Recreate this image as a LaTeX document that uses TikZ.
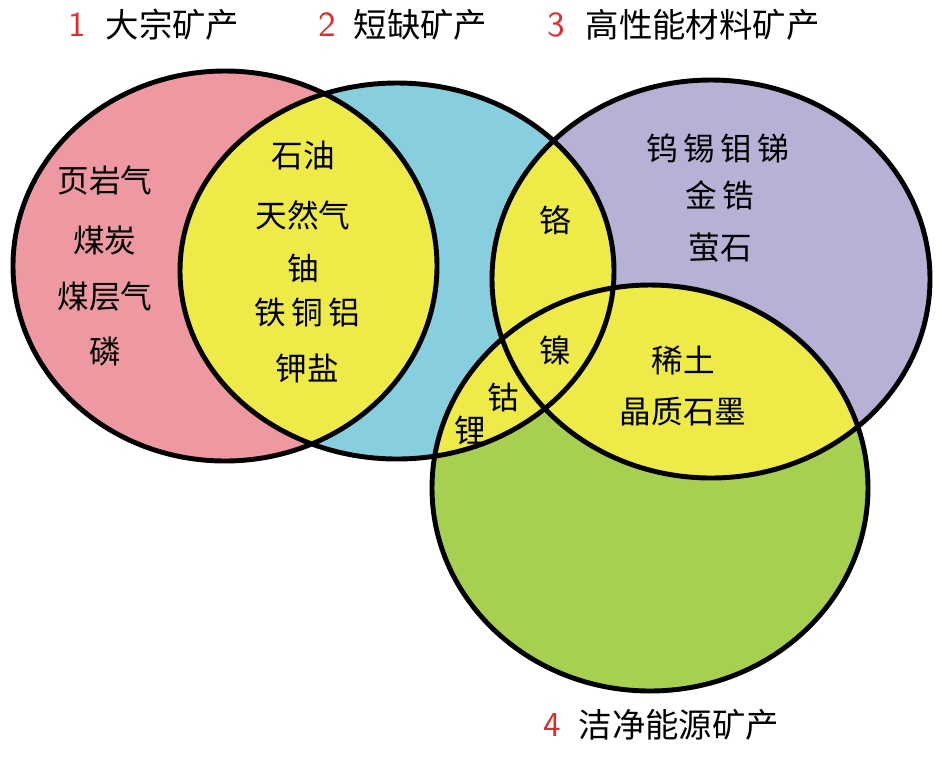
\documentclass[tikz,border=0pt]{standalone}
\usepackage{fontspec}
\newfontfamily\cjk{Noto Sans CJK SC}[BoldFont={Noto Sans CJK SC Bold}]
\usepackage{xcolor}
\definecolor{bulkpink}{RGB}{238,152,162}
\definecolor{shortblue}{RGB}{135,206,222}
\definecolor{hipurple}{RGB}{181,178,214}
\definecolor{cleangreen}{RGB}{168,208,80}
\definecolor{overlapyellow}{RGB}{238,234,72}
\definecolor{numred}{RGB}{230,40,40}

\begin{document}
\begin{tikzpicture}[
    x=0.01cm, y=-0.01cm,
    label/.style={font=\cjk\fontsize{9}{11}\selectfont, inner sep=1pt},
    title/.style={font=\cjk\fontsize{9.5}{11}\selectfont, anchor=west, inner sep=0pt},
    num/.style={font=\sffamily\fontsize{10}{11}\selectfont, text=numred, anchor=west, inner sep=0pt},
]
\useasboundingbox (0,0) rectangle (942,757);

% Circles
\def\pinkshape{(225,266) ellipse [x radius=212, y radius=195]}
\def\blueshape{(397,271) ellipse [x radius=217, y radius=188]}
\def\purpleshape{(711,279) ellipse [x radius=219, y radius=199]}
\def\greenshape{(650,488) ellipse [x radius=218, y radius=203]}

\fill[cleangreen] \greenshape;
\fill[hipurple] \purpleshape;
\fill[shortblue] \blueshape;
\fill[bulkpink] \pinkshape;

% Overlaps
\begin{scope}
  \clip \pinkshape;
  \fill[overlapyellow] \blueshape;
\end{scope}
\begin{scope}
  \clip \blueshape;
  \fill[overlapyellow] \purpleshape;
  \fill[overlapyellow] \greenshape;
\end{scope}
\begin{scope}
  \clip \purpleshape;
  \fill[overlapyellow] \greenshape;
\end{scope}

\draw[line width=1.4pt] \pinkshape;
\draw[line width=1.4pt] \blueshape;
\draw[line width=1.4pt] \purpleshape;
\draw[line width=1.4pt] \greenshape;

% Titles
\node[num] (n1) at (68,25) {1};
\node[title] (t1) at (105,25) {大宗矿产};
\node[num] (n2) at (318,25) {2};
\node[title] (t2) at (353,25) {短缺矿产};
\node[num] (n3) at (547,25) {3};
\node[title] (t3) at (585,25) {高性能材料矿产};
\node[num] (n4) at (543,725) {4};
\node[title] (t4) at (578,725) {洁净能源矿产};

% Bulk
\node[label] (shale) at (105,180) {页岩气};
\node[label] (coal) at (105,240) {煤炭};
\node[label] (cbm) at (105,297) {煤层气};
\node[label] (phos) at (105,352) {磷};

% Bulk and short
\node[label] (oil) at (303,155) {石油};
\node[label] (gas) at (303,215) {天然气};
\node[label] (uran) at (303,268) {铀};
\node[label] (fecual) at (307,312) {铁\,铜\,铝};
\node[label] (potash) at (307,368) {钾盐};

% Middle
\node[label] (chrom) at (555,220) {铬};
\node[label] (nickel) at (555,350) {镍};
\node[label] (cobalt) at (503,398) {钴};
\node[label] (lith) at (470,430) {锂};

% High performance
\node[label] (wsn) at (718,148) {钨\,锡\,钼\,锑};
\node[label] (auzr) at (720,195) {金\,锆};
\node[label] (fluor) at (720,248) {萤石};

\node[label] (ree) at (683,360) {稀土};
\node[label] (graph) at (683,412) {晶质石墨};
\end{tikzpicture}
\end{document}
